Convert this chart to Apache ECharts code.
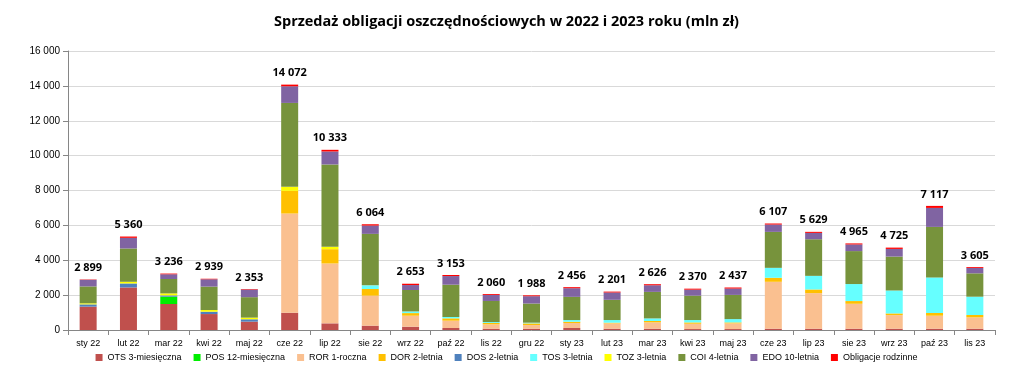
<!DOCTYPE html>
<html><head><meta charset="utf-8">
<script src="https://cdn.jsdelivr.net/npm/echarts@6/dist/echarts.min.js"></script>
<style>html,body{margin:0;padding:0;background:#fff}#c{width:1013px;height:382px}</style>
</head><body><div id="c"></div>
<script>
const categories = ['sty 22','lut 22','mar 22','kwi 22','maj 22','cze 22','lip 22','sie 22','wrz 22','paź 22','lis 22','gru 22','sty 23','lut 23','mar 23','kwi 23','maj 23','cze 23','lip 23','sie 23','wrz 23','paź 23','lis 23'];
const totals = [2899,5360,3236,2939,2353,14072,10333,6064,2653,3153,2060,1988,2456,2201,2626,2370,2437,6107,5629,4965,4725,7117,3605];
const OTS = [1340,2440,1490,915,480,990,380,250,190,115,75,75,115,75,75,55,55,75,75,75,75,75,75];
const POS = [0,0,420,0,0,0,0,0,0,0,0,0,0,0,0,0,0,0,0,0,0,0,0];
const ROR = [0,0,0,0,0,5690,3435,1720,630,420,250,210,285,305,365,305,325,2690,2040,1430,780,745,650];
const DOR = [0,0,0,0,0,1300,820,380,150,135,75,95,75,40,75,75,55,230,210,155,95,155,135];
const DOS = [130,230,75,135,135,0,0,0,0,0,0,0,0,0,0,0,0,0,0,0,0,0,0];
const TOS = [0,0,0,0,0,0,0,210,95,75,55,40,95,150,150,135,190,570,780,975,1315,2040,1050];
const TOZ = [60,95,115,95,95,230,135,0,0,0,0,0,0,0,0,0,0,0,0,0,0,0,0];
const COI = [969,1910,826,1344,1173,4812,4723,2954,1228,1853,1210,1098,1331,1161,1521,1400,1387,2062,2099,1890,1945,2897,1340];
const EDO = [380,610,270,420,440,955,745,475,285,495,345,420,495,420,380,345,365,420,365,380,440,1090,305];
const RODZ = [20,75,40,30,30,95,95,75,75,60,50,50,60,50,60,55,60,60,60,60,75,115,50];
const yTicks = [0,2000,4000,6000,8000,10000,12000,14000,16000];

const fmt = v => String(v).replace(/\B(?=(\d{3})+(?!\d))/g, ' ');
const seriesDefs = [
  ['OTS 3-miesięczna', OTS, '#C0504D'],
  ['POS 12-miesięczna', POS, '#00EE00'],
  ['ROR 1-roczna', ROR, '#FAC090'],
  ['DOR 2-letnia', DOR, '#FFC000'],
  ['DOS 2-letnia', DOS, '#4F81BD'],
  ['TOS 3-letnia', TOS, '#66FFFF'],
  ['TOZ 3-letnia', TOZ, '#FFFF00'],
  ['COI 4-letnia', COI, '#77933C'],
  ['EDO 10-letnia', EDO, '#8064A2'],
  ['Obligacje rodzinne', RODZ, '#FF0000']
];
const series = seriesDefs.map((d, i) => ({
  name: d[0], type: 'bar', stack: 'all', data: d[1], barWidth: 17,
  itemStyle: { color: d[2] },
  label: i === seriesDefs.length - 1 ? {
    show: true, position: 'top', distance: 6,
    formatter: p => fmt(totals[p.dataIndex]),
    fontFamily: 'Open Sans', fontWeight: 'bold', fontSize: 11, color: '#000'
  } : { show: false }
}));

const chart = echarts.init(document.getElementById('c'));
chart.setOption({
  animation: false,
  title: { text: 'Sprzedaż obligacji oszczędnościowych w 2022 i 2023 roku (mln zł)', left: 'center', top: 9,
    textStyle: { fontFamily: 'Open Sans', fontWeight: 'bold', fontSize: 14.5, color: '#000' } },
  grid: { left: 68, right: 18, top: 51, bottom: 52 },
  legend: { bottom: 15, left: 'center', itemWidth: 7, itemHeight: 7, itemGap: 12, icon: 'rect',
    textStyle: { fontFamily: 'Liberation Sans', fontSize: 9, color: '#000' },
    data: seriesDefs.map(d => d[0]) },
  xAxis: { type: 'category', data: categories,
    axisLine: { lineStyle: { color: '#868686' } },
    axisTick: { show: true, lineStyle: { color: '#868686' } },
    axisLabel: { interval: 0, fontFamily: 'Liberation Sans', fontSize: 9, color: '#000', margin: 9 } },
  yAxis: { type: 'value', min: 0, max: 16000, interval: 2000,
    axisLine: { show: true, lineStyle: { color: '#868686' } },
    axisTick: { show: true, lineStyle: { color: '#868686' } },
    splitLine: { lineStyle: { color: '#D9D9D9' } },
    axisLabel: { fontFamily: 'Liberation Sans', fontSize: 10, color: '#000', margin: 8,
      formatter: v => yTicks.includes(v) ? fmt(v) : '' } },
  series: series
});
</script></body></html>
